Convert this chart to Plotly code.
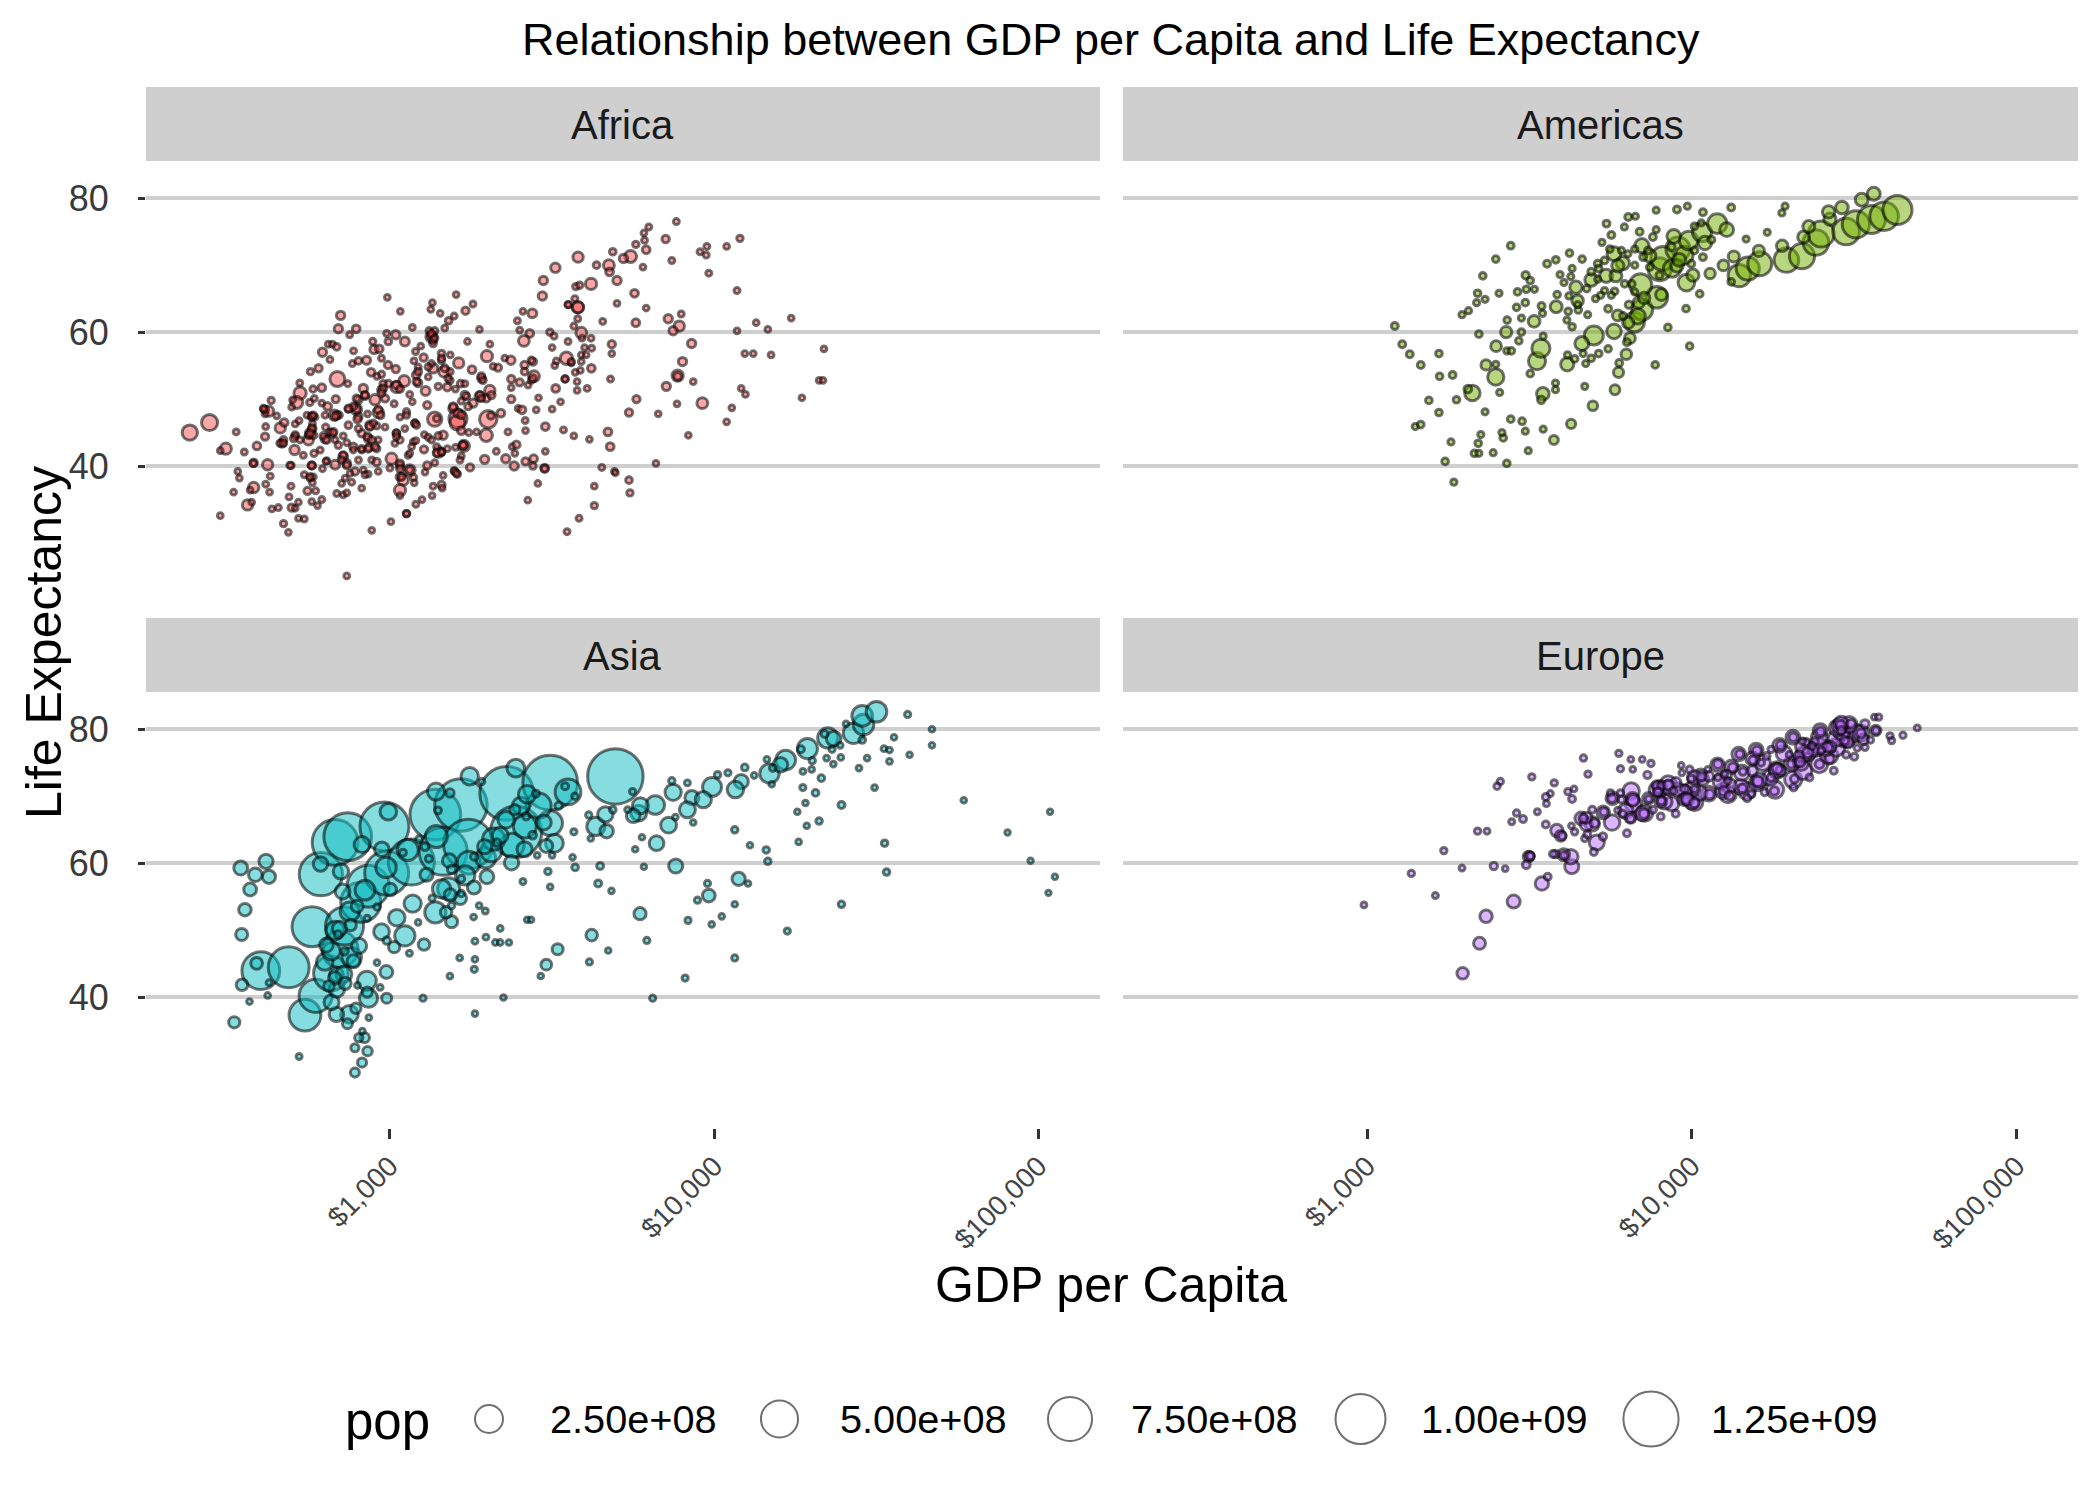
import math
import plotly.graph_objects as go

# Rows: (log10 GDP per capita, life expectancy, population in millions)
africa = [
(2.383,45.0,55),(2.444,46.5,64),(2.848,62.5,6),(2.841,60.5,6),(2.896,60.5,4),(2.876,59.6,.5),(2.81,58.2,.5),(2.823,58.2,.5),
(2.836,57.8,1.5),(2.792,57,6),(2.815,55.9,.5),(2.888,57.2,.5),(2.884,55.3,.5),(2.903,55.7,1.5),(2.928,55.8,5),(2.947,58.6,1),
(2.951,57.4,6),(2.967,57.5,4),(2.99,59.8,.5),(3.018,59.6,6),(2.995,58.6,1.5),(3.046,58.6,8),(2.974,56.1,.5),(2.994,55.1,3),
(3.018,54.5,3),(2.942,54,4),(2.974,53.7,1),(2.96,53.4,.3),(2.78,54.6,3),(2.755,54.1,1),(2.838,53,52),(2.87,52.3,.5),
(2.722,52.4,.5),(2.79,51.7,4),(2.763,51.5,1),(2.723,50.9,28),(2.713,49.5,25),(2.697,48.8,.3),(2.7,49.9,.3),(2.634,49.8,1),
(2.753,49.5,1),(2.767,50.1,.3),(2.626,48.2,15),(2.611,48.5,.5),(2.615,47.8,.5),(2.651,47.5,.3),(2.833,50,3),(2.79,49.4,.3),
(2.808,48.9,4),(2.8,47.6,.5),(2.829,47.6,15),(2.843,47.6,1.5),(2.896,48.5,18),(2.872,48.5,1),(2.964,48,15),(2.918,51.6,6),
(2.923,50.5,3),(2.903,49.9,3),(2.954,49.9,15),(2.985,50.1,3),(2.974,51.4,4),(3.02,51.8,20),(3.044,52.7,18),(2.995,52.3,1.5),
(2.979,52.3,1),(2.903,47.4,3),(2.931,47.8,.3),(3.013,49.3,.5),(3.061,50.7,.5),(3.069,49.6,.3),(3.051,48.1,1),(3.031,47.3,.3),
(3.11,51.2,8),(3.087,52.4,3),(3.081,53.6,4),(3.087,54.8,.5),(3.079,57.1,.5),(3.104,56.2,3),(3.074,55.7,.3),(3.095,57.9,.3),
(3.128,59.3,20),(3.121,60.2,1),(3.138,60.2,1),(3.133,58.3,1.5),(3.128,59.4,3),(3.133,54.6,11),(3.128,55.3,.5),(3.167,54.1,18),
(3.159,56.8,1.5),(3.159,55.8,1.5),(3.186,56.6,.3),(3.212,55.4,15),(3.253,54.4,4),(3.299,56.4,20),(3.118,53.3,.3),(3.149,51.9,1),
(3.177,51.8,4),(3.202,51.5,.3),(3.185,52.8,1),(3.218,52.3,1.5),(3.231,52.3,.5),(3.282,53.1,4),(3.308,51.3,15),(3.297,50.1,3),
(3.277,50.4,10),(3.231,50.6,4),(3.256,49.4,6),(3.22,49.7,.5),(3.241,48.9,1.5),(3.195,48.6,8),(3.21,47.1,90),(3.208,46.5,52),
(3.22,45.3,4),(3.243,45,.5),(3.138,47,45),(3.144,47.1,1),(3.115,49.1,3),(3.342,47.9,4),(3.303,47,80),(3.311,47.5,1.5),(3.297,44.6,28),
(3.267,45.1,.3),(3.164,44.6,6),(3.149,44.5,1.5),(3.106,44.7,.3),(3.118,44.3,.5),(3.228,43,20),(3.226,43.1,3),(3.151,42.1,15),
(3.159,42.1,1.5),(3.177,42.6,.3),(3.202,42.8,.3),(3.144,42.9,.5),(3.105,42.5,3),(3.072,43.6,.3),(3.08,43.8,.5),(3.067,42.9,.3),(3.128,43.9,.5),
(3.22,41.5,.5),(3.216,40.9,.5),(3.292,41,6),(3.357,41.1,6),(3.328,42.2,.5),(3.385,41.9,.3),(3.383,40,6),(3.418,40.7,3),(3.443,41.1,4),
(3.441,40,1),(3.479,42.2,.3),(3.477,39.7,4),(3.377,42.9,.3),(3.39,43.2,3),(3.364,45.1,.5),(3.418,45.3,.3),(3.479,45.9,4),(3.535,45.4,.5),
(3.567,44.5,.3),(3.615,44,.3),(3.672,45.1,4),(3.679,42.9,4),
(3.374,50,3),(3.395,48.6,.3),(3.407,48.4,4),(3.417,46.8,.5),(3.451,48.4,.3),(3.458,50.2,.3),(3.5,48.5,.3),(3.526,49.6,.3),
(3.374,53,3),(3.4,52.5,3),(3.374,51.7,.3),(3.426,52.1,.3),(3.444,53.4,18),(3.436,52.8,.5),(3.415,55.1,3),(3.441,55.6,3),(3.415,54.1,1.5),
(3.511,51.6,4),(3.54,53,1),(3.577,52.6,.3),(3.577,51.3,.3),(3.608,51.6,.5),(3.544,56.1,28),(3.559,55.4,.5),(3.508,55,.3),(3.513,55.7,.3),
(3.59,56.6,.3),(3.605,56.6,.3),(3.59,55.6,.3),(3.621,54.6,4),(3.587,54.3,.3),(3.571,54,.3),(3.68,53,.5),
(3.5,57.7,.3),(3.549,58.6,.5),(3.6,57.7,.3),(3.622,57.6,.5),(3.62,59.1,.5),(3.59,59.9,18),(3.567,60.9,.5),(3.592,59.1,.3),(3.493,60,1),(3.506,59.4,.5),
(3.431,59.8,4),(3.413,58.7,18),(3.4,60.3,.3),(3.393,61.7,.5),(3.439,62.8,8),(3.41,63.1,.3),(3.549,64.1,.5),(3.579,63.7,20),(3.579,62,.5),(3.656,61.6,.5),
(3.684,58.2,3),(3.684,56.8,.3),(3.276,60.4,.3),(3.239,58.6,.3),(3.308,58.2,.3),(3.354,56.1,.3),(3.373,55.8,6),(3.333,54.7,3),(3.318,54.9,.3),
(3.069,60.7,.5),(3.169,60.6,.5),(3.181,61.7,1.5),(3.198,62.4,.5),(3.233,63.2,3),(3.256,64.2,.5),(3.155,62.8,.3),(3.126,63.4,.3),(3.131,64.4,.3),(3.032,63.1,.3),
(2.494,42.6,20),(2.477,42.3,.3),(2.551,42.1,.5),(2.526,45.1,.5),(2.59,43,4),(2.615,44.4,3),(2.617,45.9,.5),(2.662,45.7,15),(2.674,46.5,4),(2.708,46.3,.5),(2.72,46.8,.3),
(2.667,43.4,4),(2.672,43.9,1.5),(2.706,42.4,10),(2.733,41.6,.5),(2.708,44.5,.5),(2.723,43.9,.5),(2.749,43.9,13),(2.754,44.9,10),(2.761,45.6,3),(2.759,47.4,3),
(2.744,47.6,.3),(2.769,47.3,.5),(2.761,46.3,.5),(2.749,44.6,1.5),(2.785,42.4,.5),(2.766,41.9,1),(2.8,44.1,6),(2.823,44.9,3),(2.831,43.9,.3),(2.856,44.5,.5),
(2.802,45.8,1),(2.815,45.1,.5),(2.841,43.1,1),(2.867,43.5,.5),(2.887,42.9,3),(2.872,46.1,1.5),(2.9,47,3),(2.913,44.9,3),(2.933,44.1,4),(2.938,46.1,6),(2.959,46,1),(2.985,45.8,.3),(2.903,45.6,1),
(2.936,42.8,3),(2.959,42.6,1.5),(2.913,42.4,.5),(2.964,43.9,.3),(2.887,42.4,.3),(3.02,44.9,1),(3.031,43.9,1),(3.046,45.6,.3),(3.077,46.4,1.5),(3.015,43.4,.3),
(2.856,41.4,8),(2.867,40.4,4),(2.831,40.2,8),(2.805,40.8,.5),(2.759,40.1,3),(2.695,40.1,1),(2.623,40.2,15),(2.58,40.5,3),
(2.903,40.9,.5),(2.892,39.2,3),(2.944,40.9,.5),(2.959,40.6,3),(3.005,41.1,20),(3,39.7,.5),(2.964,39.2,.3),(3.031,40.1,3),(3.056,41.6,.5),(3.061,41.9,.3),(3.061,39.4,18),
(3.031,38.4,4),(3.041,37.9,15),(3.073,38.3,1),(3.075,37.5,.3),(3.108,39.1,.3),(3.115,40.1,3),(3.138,40.5,.3),(3.031,36.4,20),(3.031,35.6,.3),(3.133,37,.5),(3.159,37.2,3),(3.161,36.7,.3),
(3.13,35.6,.3),(3.099,35,.3),(3.08,34.3,.5),(3.051,32.9,1),(3.003,31.7,.3),(2.944,30.4,.3),(3.198,39.3,1),(3.208,38.8,1),(3.164,38.6,.3),(3.247,39.8,3),
(2.531,39.2,.3),(2.536,38.2,.3),(2.631,38.5,.5),(2.617,37.3,.5),(2.58,36.8,15),(2.569,36.4,.3),(2.518,36.1,.3),(2.629,36.1,.3),(2.695,37,.5),(2.746,36.3,3),(2.771,36.3,.5),
(2.689,35.4,.5),(2.718,34.6,.3),(2.759,34.7,.3),(2.79,35,.5),(2.777,34.1,.3),(2.561,34.2,15),(2.574,34.6,.3),(2.636,33.6,.3),(2.656,33.8,.5),(2.697,33.8,3),(2.708,33.7,.3),
(2.477,32.6,.3),(2.672,31.4,1),(2.687,30.1,.3),(2.718,32.2,.3),(2.736,32.1,.5),(2.867,23.6,.3),
(2.736,38.7,.5),(2.754,38.2,1),(2.764,38.4,.3),(2.761,37.5,.3),(2.792,39.6,.3),(2.803,40.7,.5),(2.836,35.9,.5),(2.856,35.7,.3),(2.867,36,.3),(2.913,36.7,.3),(2.851,37.4,.3),(2.882,37.6,.5),(2.862,38.2,.3),(2.877,38.9,.3),(2.918,39.4,.3),(2.933,38.8,.3),(2.923,38.7,.3),
(3.456,37.4,.3),(3.425,34.9,.3),(3.63,37,.3),(3.63,34.1,1),(3.583,32.2,.5),(3.546,30.2,.5),(3.653,39.8,.5),(3.692,39.2,.3),(3.695,39,.3),(3.737,37.9,1.5),(3.74,36,1),
(3.883,76.5,.5),(3.798,75.7,.5),(3.783,74.8,.3),(3.785,73.7,.5),(3.85,73.9,3),(3.758,73.1,1),(3.79,72.3,4),(4.079,74,1),(3.977,72.8,.5),(4.038,72.8,.3),(3.956,72,.5),(3.975,71.5,.5),
(3.869,70.7,.5),(3.742,71.3,25),(3.72,71,6),(3.687,72,1.5),(3.58,71.2,15),(3.637,70,1.5),(3.675,70,18),(3.78,69.7,.3),(3.677,69,4),(3.51,69.6,10),(3.473,67.7,6),(3.62,67.2,20),(3.7,67.7,6),
(3.573,66.8,1),(3.585,67,1),(3.47,65.4,6),(3.754,65.8,4),(3.983,68.8,.5),(4.07,66.2,.5),(2.992,65.2,.3),(3.204,65.6,.3),(3.7,64.3,.3),(3.79,63.6,.3),(3.57,65,.5),(3.55,64.1,1),(3.58,63.7,20),
(3.858,62,6),(3.892,60.9,15),(3.898,62.7,.5),(3.873,60.2,6),(3.93,58.3,6),(3.758,61.4,4),(4.237,62.1,.3),(4.129,61.4,.3),(4.07,60.2,.3),(4.165,60.4,.3),(4.094,56.8,.3),(4.12,56.8,.3),(4.175,56.6,.3),
(4.338,57.5,.3),(4.323,52.8,.3),(4.335,52.8,.3),(4.27,50.2,.3),(4.083,51.6,.3),(4.096,50.7,.3),(4.054,48.7,.3),(4.038,46.6,.3),(3.902,55.6,6),(3.887,53.5,20),(3.852,51.9,6),(3.935,52.6,.3),
(3.963,49.4,18),(3.76,50,3),(3.737,48,3),(3.885,49.3,.3),(3.827,47.8,.3),(3.92,44.6,.3),(3.82,40.4,.3),(3.887,53.4,4),
# overlapping points inside the dark clusters
(2.897,48.5,3),(2.887,48.9,2),(2.964,48.4,3),(2.971,47.6,2),(3.02,52.1,4),(3.031,51.5,2),(2.759,45.6,2),(2.764,44.6,2),(2.708,44.6,2),(2.703,44.1,1),(2.795,44.5,2),(2.805,43.9,2),(2.826,45.1,2),
(2.931,44.4,2),(2.944,43.9,2),(2.938,45.9,3),(2.949,46.4,1),(2.856,41.6,2),(2.851,40.9,1),(2.867,40.1,2),(3.031,40.4,2),(3.031,39.6,2),(3.036,38.4,2),(3.061,39.4,2),(3.21,47.9,6),(3.195,48.9,3),(3.22,47.6,3),
(3.282,53.4,2),(3.287,52.8,1),(3.128,59.8,2),(3.133,58.8,2),(3.138,59.1,1),(3.277,50.6,2),(3.313,50.6,3),(3.236,50.4,1),(3.179,53.1,1),(3.185,54.1,1),(3.169,54.6,2),(3.159,56.1,1),(2.979,51.6,2),(2.974,50.9,2),
(2.923,50.6,2),(2.897,50.1,2),(2.872,48.6,2),(2.836,47.6,3),(2.831,47.4,2),(2.759,47.4,2),(2.764,47.6,1),(2.754,44.9,2),(2.615,48.4,2),(2.61,48.6,1),(2.661,43.4,1),(2.672,43.4,1),(2.579,40.4,1),(2.759,40.1,2),
(2.692,40.1,1),(2.754,38.4,1),(3.051,47.6,1),(3.02,44.9,2),(3.02,44.4,1),(3.077,46.4,1),(3.082,46.1,1),(3.144,41.9,2),(3.159,42.1,1),(3.226,43.1,3),(3.2,39.2,1),(3.205,38.9,1),(3.051,32.9,1),(2.913,42.6,1),
(2.933,42.6,2),(2.954,42.9,2),(3.477,39.6,2),(3.54,53,1),(3.559,55.6,1),(3.441,53.1,2),(3.436,55.8,1),(3.282,50.1,1),(3.087,54.1,2),(3.082,52.6,2),(3.118,54.8,1),
]

americas = [
# United States
(4.146,68.44,157),(4.172,69.49,172),(4.209,70.21,187),(4.291,70.76,199),(4.339,71.34,210),(4.382,73.38,221),(4.398,74.65,232),(4.475,75.02,243),(4.505,76.09,257),(4.553,76.81,273),(4.592,77.31,288),(4.633,78.24,301),
# Brazil
(3.324,50.9,57),(3.396,53.3,66),(3.523,55.67,77),(3.535,57.6,89),(3.698,59.5,101),(3.823,61.49,114),(3.847,63.34,129),(3.892,65.2,142),(3.842,67.06,155),(3.901,69.39,168),(3.91,71,180),(3.957,72.39,190),
# Mexico
(3.541,50.79,30),(3.616,55.19,35),(3.661,58.3,41),(3.76,60.11,47),(3.833,62.36,55),(3.885,65.03,63),(3.983,67.4,71),(3.939,69.5,80),(3.976,71.46,88),(3.99,73.67,95),(4.031,74.9,102),(4.078,76.2,109),
# Canada
(4.056,68.75,14.8),(4.097,69.96,17),(4.129,71.3,19),(4.206,72.13,20),(4.278,72.88,22),(4.344,74.21,23.8),(4.36,75.76,25),(4.425,76.86,26.5),(4.421,77.95,28.5),(4.462,78.61,30),(4.523,79.77,31.9),(4.56,80.65,33),
# Argentina
(3.772,62.5,18),(3.836,64.4,20),(3.853,65.1,21.3),(3.906,65.6,22.9),(3.975,67.1,24.8),(4.003,68.5,26.9),(3.954,69.9,29),(3.961,70.8,31.6),(3.969,71.9,33.9),(4.04,73.3,36.2),(3.944,74.3,38.3),(4.107,75.3,40.3),
# Colombia
(3.331,50.6,12),(3.366,55.1,14),(3.397,57.9,17),(3.428,60,20),(3.514,61.6,23),(3.582,63.8,25),(3.643,66.7,28),(3.69,67.8,31),(3.736,68.4,34),(3.787,70.3,37),(3.76,71.7,41),(3.846,72.9,44),
# Peru
(3.575,43.9,8),(3.628,46.3,9),(3.695,49,11),(3.763,51.4,12),(3.774,54,14),(3.798,56.7,16),(3.809,59.1,18),(3.804,61.4,21),(3.648,64.7,22),(3.766,68.4,25),(3.772,69.9,27),(3.87,71.4,29),
# the rest of the Americas
(3.085,60.9,2),(3.108,58.2,2),(3.131,56.7,2),(3.165,55.1,2),(3.221,56.8,1.5),(3.223,53.4,1.5),(3.263,53.6,1.8),(3.31,51.5,4),(3.329,50.9,9),(3.335,50.7,5),(3.19,49.8,1.5),(3.275,49.9,1.5),(3.221,48,1.5),
(3.148,45.9,.8),(3.165,46.2,1.5),(3.363,48.1,.8),(3.258,43.6,.8),(3.35,44.7,.8),(3.342,43.4,1.5),(3.33,41.9,1.5),(3.344,41.9,.8),(3.388,42,.8),(3.24,40.7,1.5),(3.267,37.6,.8),(3.43,40.4,1.5),(3.419,44.2,1.5),(3.415,45,.8),
(3.442,47,1.5),(3.477,46.7,1.5),(3.487,45.2,.8),(3.542,45.5,.8),(3.496,42.3,.8),(3.577,44,3),(3.631,46.2,3),(3.408,51,.8),(3.398,53.3,15),(3.369,55.2,3),(3.396,55.2,.8),(3.502,53.8,1.5),(3.402,57.9,4),(3.43,57.2,.8),(3.444,57.2,1.5),
(3.344,59.7,1.5),(3.431,60,3),(3.475,60,1.5),(3.467,58.7,1.5),(3.431,61.8,1.5),(3.475,62.1,.8),(3.519,61.7,4),(3.54,62.8,.8),(3.537,63.9,2),(3.46,63.7,1.5),(3.487,64.4,1.5),(3.463,66,1.5),(3.49,66.4,1.5),(3.515,66.4,.8),
(3.406,65.8,.8),(3.34,65.8,1.5),(3.363,64.9,.8),(3.337,64.4,.8),(3.312,63.2,.8),(3.292,62.6,.8),(3.356,68.4,1.5),(3.396,70.9,1.5),(3.442,72.9,1.5),(3.488,68.5,3),(3.502,67.7,1.5),(3.554,70.2,2),(3.581,70.8,1.5),(3.623,71.8,1.5),
(3.662,70.9,1.5),(3.631,69.5,.8),(3.594,68.6,.8),(3.627,68.3,.8),(3.606,67.4,.8),(3.585,65.6,1.5),(3.621,65.4,.8),(3.583,63.9,5),(3.619,63.1,1.5),(3.65,63.3,1.5),(3.648,64.1,.8),(3.679,62.6,.8),(3.631,60.8,1.5),(3.615,61.8,.8),(3.542,59.4,.8),
(3.737,76.2,2),(3.792,75.7,.8),(3.804,77.2,2),(3.826,77.3,.8),(3.89,78.2,.8),(3.954,78.3,2),(3.986,78.8,.8),(4.034,77.9,2),(4.121,78.6,2),(4.287,78.8,.8),(4.277,77.8,.8),(3.752,74.5,2),(3.762,74.2,1.5),(3.723,73.4,.8),
(3.839,75,2),(3.89,75.3,.8),(3.88,74.2,2),(3.945,74.5,3),(4.008,75.8,1.5),(4.029,76.3,.8),(4.109,75.3,4),(4.032,74.9,5),(3.993,74,1.5),(4.06,73.8,2),(4.232,74.9,.8),(4.167,73.9,.8),(4.129,71.3,2),(4.099,70,1.5),(4.208,72.2,1.5),
(4.121,67.5,1.5),(4.055,68.7,2),(4.05,68.6,1.5),(4.008,68.5,2),(4.024,65.7,1.5),(3.982,63.5,1.5),(3.926,60.7,1.5),(3.993,57.9,1.5),(3.887,55.1,1.5),(3.776,55.4,2),(3.8,58.5,2),(3.765,51.4,2),(3.698,49.1,2),(3.67,51.9,.8),
(3.747,72.4,1.5),(3.762,71.8,2),(3.783,72.2,.8),(3.803,71.7,.8),(3.824,72.4,.8),(3.844,72.9,3),(3.865,72.2,2),(3.875,71.7,2),(3.937,72.7,3),(3.967,71.7,4),(3.983,73.4,1.5),(4.008,72.2,1.5),(4.034,71.2,2),(3.998,70.2,2),
(3.942,69.5,7),(3.9,68.5,2),(3.87,69.7,1.5),(3.85,71.2,2),(3.78,70.2,4),(3.824,70,.8),(3.731,70.7,1.5),(3.71,70.2,2),(3.713,69.5,1.5),(3.737,68.5,3),(3.762,68.5,3),(3.793,67.2,1.5),(3.815,67.2,1.5),(3.824,66,.8),(3.762,66.1,1.5),
(3.731,66.2,.8),(3.719,65.5,.8),(3.703,65,.8),(3.752,65.5,.8),(3.983,67.5,7),(3.806,64.1,3),(3.742,63.5,2),(3.772,62.5,3),(3.788,62.4,2),(3.762,60.1,4),(3.66,58,4),(3.742,57.5,1.5),(3.713,56.8,1.5),(3.69,56.1,1.5),(3.673,55.3,.8),
(3.619,55.3,3),(3.639,56,1.5),(3.617,56.6,.8),(3.665,56.8,.8),(3.634,60.7,2),(3.619,63.2,1.5),(3.649,63.2,1.5),(3.649,64,.8),(3.68,62.6,.8),(3.617,61.8,.8),(3.586,63.8,2),(3.586,65.5,1.5),(3.624,65.4,.8),(3.676,66.5,1.5),(3.649,66.6,4),
(3.638,66.8,3),(3.605,67.4,1.5),(3.627,68.2,.8),(3.631,69.4,1.5),(3.593,68.5,.8),(3.69,69,2),(3.69,67.7,2),(3.71,67.9,.8),(3.58,52.4,.8),(3.58,51.4,.8),(3.544,50.8,3),(3.536,49.9,3),
]

asia = [
# China
(2.602,44,556),(2.76,50.55,637),(2.688,44.5,665),(2.787,58.38,754),(2.831,63.12,862),(2.87,63.97,943),(2.983,65.5,1000),(3.14,67.27,1084),(3.219,68.69,1165),(3.36,70.43,1230),(3.494,72.03,1280),(3.695,72.96,1318),
# India
(2.738,37.37,372),(2.771,40.25,409),(2.818,43.6,454),(2.846,47.19,506),(2.86,50.65,567),(2.91,54.2,634),(2.933,56.6,708),(2.99,58.55,788),(3.066,60.2,872),(3.164,61.8,959),(3.242,62.88,1034),(3.389,64.7,1110),
# Indonesia
(2.875,37.5,82),(2.934,39.9,90),(2.929,42.5,99),(2.882,46,109),(3.046,49.2,121),(3.14,52.7,136),(3.181,56.2,153),(3.243,60.1,169),(3.377,62.7,184),(3.494,66,199),(3.458,68.6,211),(3.549,70.65,224),
# Japan
(3.507,63,86),(3.635,65.5,91),(3.818,68.7,95),(3.993,71.4,100),(4.17,73.4,107),(4.22,75.4,113),(4.287,77.1,118),(4.35,78.7,122),(4.429,79.4,124),(4.46,80.7,126),(4.456,82,127),(4.5,82.6,127),
# Pakistan
(2.835,43.4,41),(2.873,45.6,47),(2.905,47.7,53),(2.974,49.8,60),(3.021,51.9,69),(3.07,54,78),(3.159,56.2,91),(3.232,58.2,105),(3.295,60.8,120),(3.312,61.8,135),(3.32,63.6,153),(3.416,65.5,169),
# Bangladesh
(2.835,37.5,46),(2.82,39.3,51),(2.836,41.2,57),(2.858,43.5,63),(2.799,45.3,70),(2.82,46.9,80),(2.831,50,93),(2.876,52.8,104),(2.923,56,113),(2.988,59.4,123),(3.055,62,135),(3.143,64,150),
# Vietnam
(2.782,40.4,26),(2.83,42.9,28),(2.888,45.4,33),(2.804,47.8,39),(2.845,50.3,44),(2.854,55.8,50),(2.849,58.8,56),(2.914,62.8,62),(2.995,67.7,69),(3.142,70.7,76),(3.246,73,80),(3.388,74.2,85),
# Philippines
(3.105,47.9,22),(3.19,51.3,26),(3.217,54.8,30),(3.259,56.4,35),(3.299,58,40),(3.375,60.1,46),(3.415,62.1,53),(3.34,64.2,60),(3.358,66.5,67),(3.404,68.6,75),(3.423,70.3,82),(3.504,71.7,91),
# Thailand
(2.879,50.8,21),(2.899,53.6,25),(3.001,56.1,29),(3.113,58.3,34),(3.183,60.4,39),(3.292,62.5,44),(3.379,64.6,49),(3.474,66.1,53),(3.664,67.3,56),(3.767,67.5,60),(3.772,68.6,63),(3.873,70.6,65),
# South Korea
(3.013,47.5,20),(3.173,52.7,22),(3.186,55.3,26),(3.307,57.7,30),(3.482,62.6,33),(3.668,64.8,37),(3.75,67.1,39),(3.931,69.8,42),(4.083,72.2,44),(4.204,74.7,46),(4.284,77,47),(4.368,78.6,49),
# Iran
(3.482,44.9,17),(3.517,47.2,19),(3.622,49.3,22),(3.771,52.5,26),(3.983,55.2,31),(4.075,57.7,35),(3.881,59.6,43),(3.822,63,49),(3.859,65.7,60),(3.917,68,63),(3.966,69.5,66),(4.065,71,69),
# Burma
(2.52,36.3,20),(2.544,41.9,22),(2.589,45.1,24),(2.543,49.4,26),(2.553,53.1,29),(2.569,56.1,32),(2.627,58,35),(2.585,58.3,38),(2.54,59.3,41),(2.618,60.3,44),(2.786,59.9,46),(2.975,62.1,48),
# Afghanistan
(2.892,28.8,8.4),(2.914,30.3,9.2),(2.931,32,10),(2.922,34,11.5),(2.869,36.1,13),(2.895,38.4,15),(2.99,39.9,12.9),(2.93,40.8,13.9),(2.812,41.7,16),(2.803,41.8,22),(2.862,42.1,25),(2.989,43.8,32),
# the rest of Asia
(4.596,82.2,.8),(4.671,80,.2),(4.671,77.6,.2),(4.554,78.8,.3),(4.523,77.1,.3),(4.54,76.9,.3),(4.602,76.2,.2),(4.54,75.2,.3),(4.471,75.7,.3),(4.446,74.2,.3),(4.39,75.8,.3),(4.367,74.8,.2),(4.346,75.7,.3),
(4.363,77,.8),(4.388,77.6,.3),(4.43,79.3,7),(4.456,78.4,1.5),(4.406,80.8,.3),(4.354,78.5,4),(4.34,79.3,2),(4.283,77.1,6),(4.267,77,2),(4.302,75.3,1),(4.273,73.7,.3),(4.33,72.7,1.5),(4.3,74,.3),(4.273,71.3,.8),
(4.312,70.5,1.5),(4.494,71.3,.3),(4.281,69,.2),(4.256,67.7,.2),(4.392,68.7,2),(4.323,66.3,1.2),(4.285,65.6,.2),(4.26,63.2,.2),(4.769,69.4,.2),(5.035,67.7,.1),(4.904,64.6,.1),(4.975,60.4,.1),(5.05,58,.1),(5.03,55.6,.1),
(4.525,63,1.2),(4.531,58.7,1.2),(4.392,53.9,1.2),(4.225,49.9,.8),(4.16,62,1.2),(4.165,60.3,1.2),(4.11,62.7,.2),(4.063,65,1.2),(3.879,59.7,4),(3.979,57,.8),(4.075,57.8,2),(4.104,57,.2),(3.981,55.3,3),(3.948,54.5,.8),
(4.063,53.9,.2),(3.919,51.5,.8),(4.023,52.1,.2),(3.992,50.9,.2),(3.769,52.5,3),(3.621,49.3,2),(3.792,48.5,.8),(3.673,47,.2),(3.517,47.2,2),(3.615,45.3,.8),(3.483,44.8,1.5),(4.063,45.9,.8),(3.91,42.9,.8),(3.81,39.9,.8),
(3.465,43.2,.2),(3.35,40,.2),(3.262,37.6,.2),(3.102,39.9,.8),(2.99,39.9,.8),(3.185,43.2,.3),(3.26,44.2,.8),(3.215,45.9,.3),(3.262,45.7,.3),(3.27,45.7,.3),(3.104,47.7,1),(2.987,43.8,1.5),(2.96,45.2,.2),
(3.262,48.4,.5),(3.296,49,.5),(3.325,48.2,.3),(3.34,48.2,.3),(3.367,48.2,.2),(3.34,50.3,.3),(3.258,52,.3),(3.423,51.6,.2),(3.435,51.6,.2),(3.087,51.2,.2),(3.294,52.9,.5),(3.275,53.7,.3),(3.188,51.3,3),
(3.494,56.5,.2),(3.41,57.3,.5),(3.683,55.9,.2),(3.642,57,2),(3.487,58.8,1.2),(3.571,59.4,1.5),(3.648,59.6,2),(3.783,59.5,.2),(3.821,63,6),(3.756,62.1,.2),(3.777,63.9,.2),(3.86,65.7,3),(3.935,66.1,.2),(3.88,66.9,.2),
(3.915,68,4),(3.82,68.7,6),(3.867,70.6,4),(3.869,72.3,1.2),(3.917,72,.5),(3.998,71.6,3),(4.01,73.2,1.2),(4.042,73.5,.8),(4.094,74.3,1.5),(4.06,70.8,2),(4.079,72.3,.8),(4.123,73.1,.3),(4.167,73.4,6),(4.162,75.5,.3),(4.219,75.5,3),
(4.18,74.2,1.2),(4.177,71.8,.2),(3.94,69.8,.5),(3.771,68.6,4),(3.748,70.7,.8),(3.687,68,1.5),(3.733,68,.5),(3.663,67.3,2),(3.613,67.2,1),(3.627,65.6,2),(3.667,64.7,3),(3.567,64.7,.8),(3.619,63.7,.2),(3.563,60.9,.2),
(3.454,61.2,.3),(3.5,63,15),(3.5,61.2,.3),(3.49,61.3,.3),(2.567,39.4,.3),(2.623,40.3,.3),(2.627,42.2,.3),(2.72,31.2,.5),(2.892,32.5,5),(2.904,34,5.5),(2.915,35,.3),(2.935,37,.3),(2.892,38.4,.3),(2.87,36.2,.5),
(2.835,37.5,3),(2.873,37.5,6),(3.04,49.4,14),(3.02,52,6),(2.975,49.8,6),(2.93,42.6,10),(2.935,39.9,14),(3.138,52.6,10),(3.07,54.2,5),(3.17,56.1,14),(3.3,58,4),(3.23,58.2,8),
(3.283,72.2,.8),(3.148,67.9,2),(3.185,70.5,6),(3.108,62.5,4),(3.25,63.1,3),(3.33,64,8),(3.42,67,2),(3.385,68,14),(3.52,68.6,3),(3.57,70,1),(3.54,71.5,2),(3.45,70.4,2),(3.44,64.2,4),(3.41,65.2,5),(3.33,63.1,3),(3.37,62.8,4),(3.3,60.5,3),(3.26,61,3),
(3.09,63.6,2),(3.04,61.6,2),(3.12,60.7,2),(3.19,59.1,6),(3.22,57.7,2),(3.26,56.8,2),(3.22,55.5,1),(3.19,53.7,1.5),(3.13,54.8,.8),(2.96,53.5,1),(2.93,51.8,.8),(2.99,48.5,3),(3.06,46.6,.5),(2.84,49.4,3),(2.81,47.5,4),(2.86,46.9,3),(2.9,47.3,2),(2.97,41.5,.3),(2.9,41.8,.3),
]

europe = [
# Turkey
(3.294,43.6,22),(3.346,48.08,25),(3.366,52.1,29),(3.451,54.3,33),(3.538,57,37),(3.63,59.5,42),(3.627,61,47),(3.707,63.1,53),(3.754,66.1,58),(3.82,68.8,63),(3.813,70.8,67),(3.927,71.8,71),
# Germany
(3.854,67.5,69),(4.008,69.1,71),(4.111,70.3,73),(4.169,70.8,76),(4.256,71,78),(4.312,72.5,78),(4.343,73.8,78),(4.392,74.8,77),(4.423,76.1,80),(4.444,77.3,82),(4.478,78.7,82),(4.507,79.4,82),
# United Kingdom
(3.999,69.2,50),(4.052,70.4,51),(4.096,70.8,53),(4.151,71.4,54),(4.201,72,56),(4.241,72.8,56),(4.261,74,56),(4.336,75,57),(4.356,76.4,57),(4.416,77.2,58),(4.47,78.5,59),(4.521,79.4,60),
# France
(3.847,67.4,42),(3.938,68.9,44),(4.024,70.5,47),(4.114,71.6,50),(4.207,72.4,52),(4.262,73.8,53),(4.307,74.9,54),(4.344,76.3,55),(4.393,77.5,57),(4.443,78.6,59),(4.461,79.6,60),(4.484,80.7,61),
# Italy
(3.693,65.9,47),(3.796,67.8,49),(3.916,69.2,51),(4.001,71.1,53),(4.089,72.2,55),(4.154,73.5,56),(4.218,75,57),(4.283,76.4,57),(4.343,77.4,57),(4.392,78.8,57),(4.447,80.2,57),(4.456,80.5,58),
# Spain
(3.584,64.9,28),(3.659,66.7,30),(3.755,69.7,31),(3.903,71.4,33),(4.027,73.1,35),(4.122,74.4,36),(4.144,76.3,38),(4.198,76.9,39),(4.27,77.6,39),(4.311,78.8,40),(4.395,79.8,40),(4.46,80.9,40),
# Poland
(3.605,61.3,25),(3.675,65.8,28),(3.727,67.6,30),(3.817,69.6,32),(3.903,70.9,33),(3.978,70.7,35),(3.927,71.3,37),(3.958,71,38),(3.889,71,38),(4.007,72.8,39),(4.079,74.7,38),(4.187,75.6,38),
# Romania
(3.497,61,17),(3.596,64.1,18),(3.675,66.8,19),(3.811,66.8,20),(3.904,69.2,21),(3.974,69.5,22),(3.982,69.7,23),(3.987,69.5,23),(3.819,69.4,23),(3.866,69.7,22),(3.897,71.3,22),(4.034,72.5,22),
# Netherlands
(3.951,72.1,10.4),(4.052,73,11),(4.107,73.2,12),(4.186,73.8,13),(4.274,73.8,13),(4.327,75.2,14),(4.33,76,14),(4.374,76.8,15),(4.428,77.4,15),(4.481,78,16),(4.528,78.5,16),(4.566,79.8,16),
# the rest of Europe
(2.99,53.8,.3),(3.136,58.5,1),(3.21,55.2,.5),(3.236,61.9,1),(3.292,59.3,.5),(3.34,64.8,1),(3.369,64.8,.5),(3.39,59.6,3),(3.425,59.2,.3),(3.41,72.2,1),(3.40,71.5,1),(3.507,72.9,1),(3.576,72,1),
(3.46,67.5,1),(3.445,66.2,.5),(3.48,66.6,2),(3.524,67.7,.5),(3.564,70.4,.5),(3.55,69.9,2),(3.552,68.9,.5),(3.55,65.8,2),(3.49,59.8,4),(3.50,61.1,9),(3.503,61.1,3),(3.58,61.4,3),(3.572,61.4,2),(3.556,58,2),
(3.666,75.7,1),(3.775,76.4,1),(3.812,75.5,.3),(3.847,75.5,.3),(3.874,74.9,1),(3.78,74.1,1),(3.818,74,.3),(3.68,73.3,1),(3.863,73.2,3),(3.618,70.7,1),(3.637,71.1,.3),(3.631,69.6,2),
(3.749,70.5,1),(3.754,69.7,6),(3.78,70.5,1),(3.783,69.5,2),(3.867,69.6,2),(3.852,67.4,10),(3.88,68,2),(3.904,67,2),(3.95,67.4,2),(3.693,68,2),(3.729,67.7,5),(3.665,66.7,6),(3.7,66,8),(3.772,67.9,1),(3.787,67.4,2),
(3.811,66.7,5),(3.8,64.5,2),(3.629,65.6,.3),(3.639,64.7,1),(3.6,64.1,4),(3.67,63.7,1),(3.678,64.3,2),(3.726,64,3),(3.698,61.7,2),(3.606,61.2,3),
(3.89,71.7,5),(3.906,71.6,3),(3.928,71.7,12),(3.895,70.6,6),(3.906,69.3,4),(3.942,70.8,2),(3.978,71.1,4),(3.967,74.6,.3),(3.969,73.5,.3),(3.993,74,2),(4.008,71.1,2),(4.008,69,10),(4.029,73,8),(3.998,72.6,2),(4.054,70.3,10),
(4.049,74,.3),(4.08,74.8,8),(4.126,74.3,8),(4.157,73.7,3),(4.08,72.8,1),(4.1,73.3,1),(4.111,72.3,1),(4.098,70.8,10),(4.116,70.1,8),(4.155,71.2,7),(4.183,70.3,2),(4.17,69.7,2),(4.224,70.6,2),(4.203,72.2,12),(4.254,70.8,6),
(4.316,72.6,5),(4.313,71.3,2),(4.362,72.8,2),(4.147,76.3,5),(4.2,76.8,8),(4.188,75.4,5),(4.213,75,2),(4.244,77,1),(4.273,77.6,7),(4.263,74.1,14),(4.244,72.8,4),(4.306,74.8,5),(4.334,75.1,12),(4.357,76.5,14),
(4.312,78.8,6),(4.352,78.1,3),(4.378,78.2,3),(4.396,79.7,7),(4.418,77.3,12),(4.393,74.8,8),(4.424,75.6,9),(4.437,73.8,2),(4.475,76.2,2),(4.5,75.9,2),(4.509,77.2,1),(4.533,77.3,1),(4.55,78.4,1),(4.567,79.8,3),(4.533,80.8,6),
(4.562,81.8,.3),(4.575,81.8,1),(4.61,79,1),(4.615,78.3,1),(4.65,79.1,1),(4.694,80.2,.5),(4.458,80.6,9),(4.49,80.8,7),(4.47,78.3,6),(4.521,79.4,9),(4.46,79.8,5),(4.398,76.8,2),(4.37,77.5,2),(4.34,78.2,1),(4.23,76,2),(4.3,76.2,1),
]

facet_names = ["Africa", "Americas", "Asia", "Europe"]
facet_rows = [africa, americas, asia, europe]
facet_fill = ["rgba(245,80,79,0.5)", "rgba(114,174,0,0.5)", "rgba(12,188,192,0.5)", "rgba(186,108,255,0.5)"]
x_tick_values = [1000, 10000, 100000]
x_tick_labels = ["$1,000", "$10,000", "$100,000"]
y_tick_values = [40, 60, 80]
legend_pop = [250, 500, 750, 1000, 1250]
legend_labels = ["2.50e+08", "5.00e+08", "7.50e+08", "1.00e+09", "1.25e+09"]

W, H = 2099, 1499
LW = 3.0
def marker_size(pop_m):
    return 8 + 50.5 * math.sqrt(pop_m / 1318) - LW

def drop_repeats(rows):
    # The same point was sometimes read twice from overlapping crops: keep the first reading.
    kept = []
    for r in rows:
        if not any(abs(r[0] - k[0]) < 0.012 and abs(r[1] - k[1]) < 0.5 for k in kept):
            kept.append(r)
    return kept

def px(v): return v / W
def py(v): return 1 - v / H

fig = go.Figure()
panel_x = [(146, 1100), (1123, 2078), (146, 1100), (1123, 2078)]
panel_y = [(161, 596), (161, 596), (692, 1127.6), (692, 1127.6)]
strip_y = [(87, 161), (87, 161), (618, 692), (618, 692)]

for i, (name, rows, fill) in enumerate(zip(facet_names, facet_rows, facet_fill)):
    n = "" if i == 0 else str(i + 1)
    if name in ("Americas", "Asia"):
        rows = drop_repeats(rows)
    gdp = [10 ** r[0] for r in rows]
    life = [r[1] for r in rows]
    pop = [r[2] for r in rows]
    fig.add_trace(go.Scatter(
        x=gdp, y=life, mode="markers", name=name, xaxis="x" + n, yaxis="y" + n, showlegend=False,
        marker=dict(size=[marker_size(p) for p in pop], color=fill, opacity=1,
                    line=dict(color="rgba(0,0,0,0.55)", width=LW)),
    ))
    bottom = i >= 2
    left = i % 2 == 0
    fig.update_layout({
        "xaxis" + n: dict(
            type="log", range=[2.248, 5.189], domain=[px(panel_x[i][0]), px(panel_x[i][1])], anchor="y" + n,
            showgrid=False, zeroline=False, showline=False,
            tickmode="array", tickvals=x_tick_values if bottom else [], ticktext=x_tick_labels if bottom else [],
            ticks="outside" if bottom else "", ticklen=10, tickwidth=2.5, tickcolor="#333333",
            tickangle=-45, tickfont=dict(family="Liberation Sans", size=28, color="#444444"),
        ),
        "yaxis" + n: dict(
            range=[20.6, 85.55], domain=[py(panel_y[i][1]), py(panel_y[i][0])], anchor="x" + n,
            showgrid=True, gridcolor="#cfcfcf", gridwidth=3.8, zeroline=False, showline=False,
            tickmode="array", tickvals=y_tick_values, ticktext=[str(v) for v in y_tick_values] if left else ["" for v in y_tick_values],
            ticks="outside" if left else "", ticklen=7, tickwidth=2.5, tickcolor="#333333", ticklabelstandoff=22,
            tickfont=dict(family="Liberation Sans", size=36, color="#3a3a3a"),
        ),
    })
    fig.add_shape(type="rect", xref="paper", yref="paper", layer="below",
                  x0=px(panel_x[i][0]), x1=px(panel_x[i][1]), y0=py(strip_y[i][1]), y1=py(strip_y[i][0]),
                  fillcolor="#cfcfcf", line_width=0)
    fig.add_annotation(xref="paper", yref="paper", x=px(sum(panel_x[i]) / 2), y=py(sum(strip_y[i]) / 2 + 1),
                       text=name, showarrow=False, font=dict(family="Liberation Sans", size=40, color="#1a1a1a"),
                       xanchor="center", yanchor="middle")

# Size legend, drawn on its own hidden axes
fig.add_trace(go.Scatter(
    x=list(range(len(legend_pop))), y=[0] * len(legend_pop), mode="markers", xaxis="x5", yaxis="y5", showlegend=False,
    marker=dict(size=[marker_size(p) + 1 for p in legend_pop], color="rgba(255,255,255,0)", opacity=1,
                line=dict(color="#707070", width=2)),
))
fig.update_layout(
    xaxis5=dict(domain=[0, 1], range=[-489 / 290.5, (W - 489) / 290.5], visible=False, anchor="y5"),
    yaxis5=dict(domain=[py(1479), py(1359)], range=[-1, 1], visible=False, anchor="x5"),
)
for j, label in enumerate(legend_labels):
    fig.add_annotation(xref="paper", yref="paper", x=px(548 + 290.3 * j), y=py(1419), text=label, showarrow=False,
                       xanchor="left", yanchor="middle",
                       font=dict(family="Liberation Sans", size=39.7, color="black"))
fig.add_annotation(xref="paper", yref="paper", x=px(343), y=py(1421), text="pop", showarrow=False,
                   xanchor="left", yanchor="middle", font=dict(family="Liberation Sans", size=51, color="black"))
fig.add_annotation(xref="paper", yref="paper", x=px(1111), y=py(40),
                   text="Relationship between GDP per Capita and Life Expectancy", showarrow=False,
                   xanchor="center", yanchor="middle", font=dict(family="Liberation Sans", size=45, color="black"))
fig.add_annotation(xref="paper", yref="paper", x=px(1111), y=py(1285), text="GDP per Capita", showarrow=False,
                   xanchor="center", yanchor="middle", font=dict(family="Liberation Sans", size=50, color="black"))
fig.add_annotation(xref="paper", yref="paper", x=px(44), y=py(643), text="Life Expectancy", showarrow=False, textangle=-90,
                   xanchor="center", yanchor="middle", font=dict(family="Liberation Sans", size=50, color="black"))

fig.update_layout(width=W, height=H, margin=dict(l=0, r=0, t=0, b=0), paper_bgcolor="white", plot_bgcolor="white",
                  font=dict(family="Liberation Sans"))
fig.write_html("out.html", config={"displayModeBar": False},
               post_script="document.body.style.margin='0';document.body.style.overflow='hidden';")
